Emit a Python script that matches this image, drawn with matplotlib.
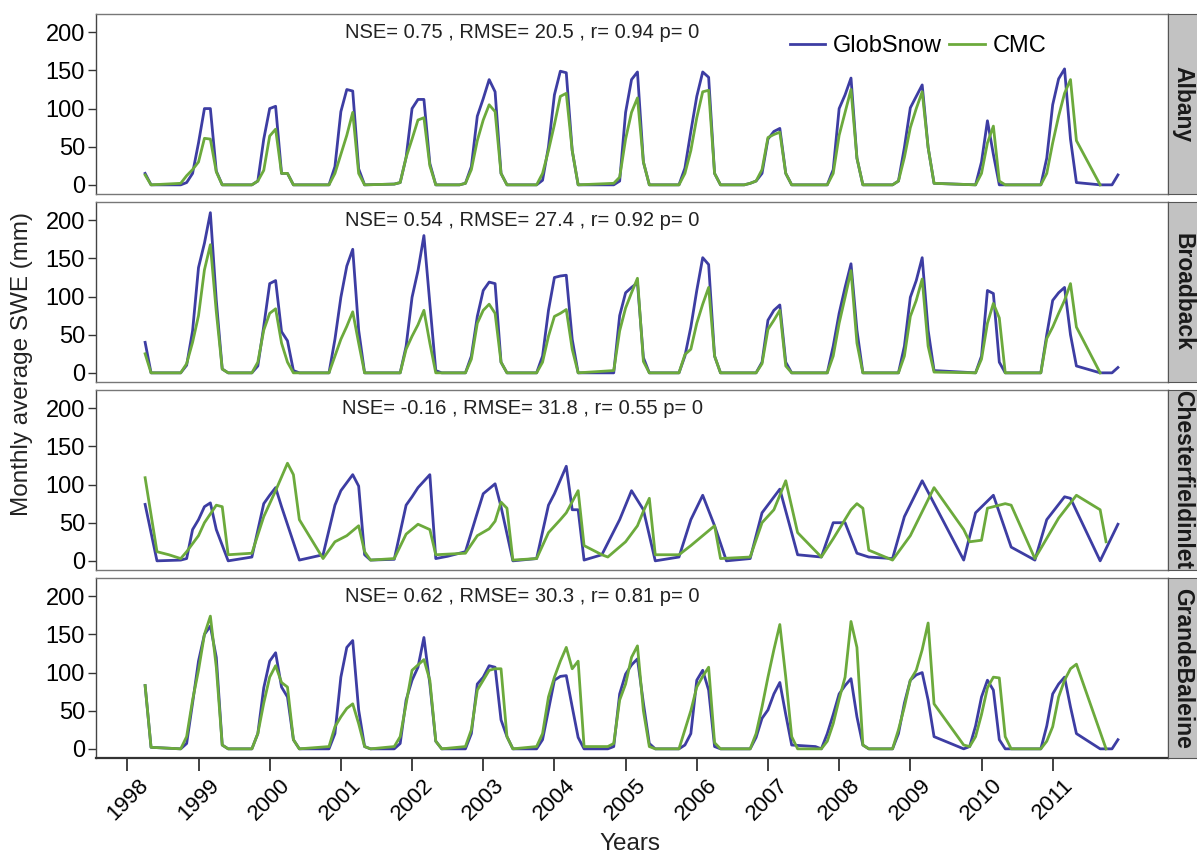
import numpy as np
import matplotlib
matplotlib.use('Agg')
import matplotlib.pyplot as plt

plt.rcParams['font.family'] = ['Liberation Sans', 'DejaVu Sans']

# ---------------------------------------------------------------
# Monthly SWE (mm), month index counted from Jan 1998 (0 = Jan 1998)
# ---------------------------------------------------------------
stations = ['Albany', 'Broadback', 'Chesterfieldinlet', 'GrandeBaleine']
stats = ['NSE= 0.75 , RMSE= 20.5 , r= 0.94 p= 0',
         'NSE= 0.54 , RMSE= 27.4 , r= 0.92 p= 0',
         'NSE= -0.16 , RMSE= 31.8 , r= 0.55 p= 0',
         'NSE= 0.62 , RMSE= 30.3 , r= 0.81 p= 0']
years = list(range(1998, 2012))

alb_gs_m = [3, 4, 9, 10, 11, 12, 13, 14, 15, 16, 21, 22, 23, 24, 25, 26, 27, 28,
            34, 35, 36, 37, 38, 39, 40, 45, 46, 47, 48, 49, 50, 51, 52,
            56, 57, 58, 59, 60, 61, 62, 63, 64, 69, 70, 71, 72, 73, 74, 75, 76,
            82, 83, 84, 85, 86, 87, 88, 93, 94, 95, 96, 97, 98, 99, 100,
            104, 105, 106, 107, 108, 109, 110, 111, 112, 118, 119, 120, 121, 122, 123, 124,
            129, 130, 131, 132, 133, 134, 135, 136, 143, 144, 145, 146, 147,
            154, 155, 156, 157, 158, 159, 160, 164, 166, 167]
alb_gs_v = [15, 0, 0, 3, 15, 55, 100, 100, 18, 0, 0, 5, 60, 100, 103, 15, 15, 0,
            0, 24, 96, 125, 123, 21, 0, 1, 3, 36, 100, 112, 112, 28, 0,
            0, 2, 24, 90, 113, 138, 122, 15, 0, 0, 6, 50, 118, 149, 147, 45, 0,
            0, 5, 95, 138, 148, 30, 0, 0, 22, 70, 116, 148, 141, 15, 0,
            0, 2, 5, 15, 60, 70, 74, 15, 0, 0, 20, 100, 118, 140, 35, 0,
            0, 5, 49, 101, 116, 131, 49, 2, 0, 30, 84, 40, 0,
            0, 35, 105, 139, 152, 60, 3, 0, 0, 13]
alb_cmc_m = [3, 4, 9, 10, 11, 12, 13, 14, 15, 16, 21, 22, 23, 24, 25, 26, 27, 28,
             34, 35, 36, 37, 38, 39, 40, 45, 46, 47, 48, 49, 50, 51, 52,
             56, 57, 58, 59, 60, 61, 62, 63, 64, 69, 70, 71, 72, 73, 74, 75, 76,
             82, 83, 84, 85, 86, 87, 88, 93, 94, 95, 96, 97, 98, 99, 100,
             104, 105, 106, 107, 108, 109, 110, 111, 112, 118, 119, 120, 121, 122, 123, 124,
             129, 130, 131, 132, 133, 134, 135, 136, 143, 144, 145, 146, 147, 148,
             154, 155, 156, 157, 158, 159, 160, 164]
alb_cmc_v = [13, 0, 2, 12, 20, 30, 61, 60, 17, 0, 0, 5, 19, 64, 73, 15, 15, 0,
             0, 15, 40, 65, 95, 15, 0, 1, 3, 36, 60, 85, 88, 25, 0,
             0, 2, 20, 58, 85, 105, 96, 15, 0, 0, 15, 45, 79, 116, 120, 45, 0,
             2, 10, 60, 95, 114, 30, 0, 0, 15, 45, 88, 122, 124, 15, 0,
             0, 2, 5, 20, 62, 66, 69, 15, 0, 0, 15, 65, 95, 125, 35, 0,
             0, 5, 36, 75, 100, 122, 49, 2, 0, 15, 55, 77, 5, 0,
             0, 15, 55, 90, 120, 138, 58, 0]

brd_gs_m = [3, 4, 9, 10, 11, 12, 13, 14, 15, 16, 17, 21, 22, 23, 24, 25, 26, 27, 28, 29,
            34, 35, 36, 37, 38, 39, 40, 46, 47, 48, 49, 50, 51, 52, 53,
            57, 58, 59, 60, 61, 62, 63, 64, 69, 70, 71, 72, 73, 74, 75, 76,
            82, 83, 84, 85, 86, 87, 88, 93, 94, 95, 96, 97, 98, 99, 100,
            106, 107, 108, 109, 110, 111, 112, 118, 119, 120, 121, 122, 123, 124,
            130, 131, 132, 133, 134, 135, 136, 143, 144, 145, 146, 147, 148,
            154, 155, 156, 157, 158, 159, 160, 164, 166, 167]
brd_gs_v = [40, 0, 0, 10, 55, 138, 170, 210, 95, 5, 0, 0, 9, 61, 117, 121, 54, 42, 3, 0,
            0, 44, 99, 140, 162, 56, 0, 0, 35, 99, 134, 180, 91, 3, 0,
            0, 22, 74, 108, 119, 117, 14, 0, 0, 22, 82, 125, 127, 128, 44, 0,
            0, 75, 105, 112, 118, 20, 0, 0, 22, 60, 108, 151, 142, 22, 0,
            0, 14, 69, 82, 89, 14, 0, 0, 35, 78, 112, 143, 56, 0,
            0, 35, 99, 121, 151, 56, 3, 0, 22, 108, 104, 14, 0,
            0, 50, 95, 105, 112, 50, 9, 0, 0, 7]
brd_cmc_m = [3, 4, 9, 10, 11, 12, 13, 14, 15, 16, 17, 21, 22, 23, 24, 25, 26, 27, 28,
             34, 35, 36, 37, 38, 39, 40, 46, 47, 48, 49, 50, 51, 52,
             57, 58, 59, 60, 61, 62, 63, 64, 69, 70, 71, 72, 73, 74, 75, 76,
             82, 83, 84, 85, 86, 87, 88, 93, 94, 95, 96, 97, 98, 99, 100,
             106, 107, 108, 109, 110, 111, 112, 118, 119, 120, 121, 122, 123, 124,
             130, 131, 132, 133, 134, 135, 136, 143, 144, 145, 146, 147, 148,
             154, 155, 156, 157, 158, 159, 160, 164]
brd_cmc_v = [25, 0, 0, 12, 40, 75, 135, 168, 80, 5, 0, 0, 14, 56, 78, 84, 39, 14, 0,
             0, 22, 44, 61, 80, 39, 0, 0, 31, 48, 63, 82, 39, 0,
             0, 18, 65, 82, 90, 78, 14, 0, 0, 14, 48, 74, 78, 83, 31, 0,
             3, 55, 85, 105, 124, 15, 0, 0, 24, 31, 65, 90, 112, 22, 0,
             0, 12, 57, 69, 82, 9, 0, 0, 22, 65, 99, 134, 39, 0,
             0, 22, 74, 95, 123, 35, 1, 0, 18, 65, 91, 72, 0,
             0, 45, 60, 78, 95, 117, 60, 0]

chs_gs_m = [3, 5, 9, 10, 11, 12, 13, 14, 15, 17, 21, 23, 24, 25, 26, 29, 33, 35, 36, 38, 39,
            40, 41, 45, 47, 48, 49, 51, 52, 54, 57, 59, 60, 62, 63, 65, 69, 71, 72, 74, 75,
            76, 77, 80, 83, 85, 87, 89, 93, 95, 97, 99, 101, 105, 107, 110, 113, 117,
            119, 121, 123, 125, 129, 131, 134, 141, 143, 146, 149, 153, 155, 158, 159, 164, 167]
chs_gs_v = [74, 0, 1, 3, 41, 54, 71, 76, 41, 0, 5, 75, 86, 96, 71, 1, 8, 73, 92, 113, 98,
            8, 1, 2, 73, 84, 96, 113, 3, 6, 12, 63, 88, 101, 71, 0, 3, 73, 88, 124, 67,
            67, 1, 8, 54, 92, 67, 0, 5, 54, 86, 46, 0, 3, 63, 94, 8, 5,
            50, 50, 10, 5, 3, 58, 105, 1, 63, 86, 18, 1, 54, 84, 82, 0, 48]
chs_cmc_m = [3, 5, 7, 9, 10, 12, 13, 15, 16, 17, 21, 23, 25, 27, 28, 29, 33, 35, 37, 39,
             40, 41, 45, 47, 49, 51, 52, 57, 59, 61, 62, 63, 64, 65, 69, 71, 73, 74, 76,
             77, 80, 81, 84, 86, 87, 88, 89, 93, 95, 97, 99, 100, 105, 107, 109, 111, 113,
             117, 119, 122, 123, 124, 125, 129, 132, 136, 141, 142, 144, 145, 148, 149,
             153, 157, 160, 164, 165]
chs_cmc_v = [109, 12, 8, 3, 12, 33, 50, 73, 71, 8, 10, 58, 92, 128, 113, 54, 3, 25, 33, 46,
             12, 1, 3, 35, 48, 41, 8, 10, 33, 42, 52, 77, 69, 1, 3, 37, 54, 63, 92,
             20, 8, 5, 25, 46, 65, 82, 8, 8, 20, 33, 46, 3, 5, 50, 67, 105, 37,
             5, 29, 67, 75, 69, 14, 1, 33, 96, 41, 25, 27, 69, 75, 73,
             3, 56, 86, 67, 25]

gbl_gs_m = [3, 4, 9, 10, 11, 12, 13, 14, 15, 16, 17, 21, 22, 23, 24, 25, 26, 27, 28, 29,
            34, 35, 36, 37, 38, 39, 40, 41, 45, 46, 47, 48, 49, 50, 51, 52, 53,
            57, 58, 59, 60, 61, 62, 63, 64, 65, 69, 70, 71, 72, 73, 74, 75, 76, 77, 81,
            82, 83, 84, 85, 86, 87, 88, 89, 93, 94, 95, 96, 97, 98, 99, 100,
            105, 106, 107, 108, 109, 110, 111, 112, 116, 117, 118, 119, 120, 121, 122, 123, 124, 125,
            129, 130, 131, 132, 133, 134, 135, 136, 141, 142, 143, 144, 145, 146, 147, 148,
            154, 155, 156, 157, 158, 159, 160, 164, 166, 167]
gbl_gs_v = [83, 2, 0, 7, 60, 115, 150, 161, 120, 5, 0, 0, 20, 80, 115, 126, 81, 68, 12, 0,
            0, 20, 94, 133, 142, 51, 3, 0, 0, 7, 64, 90, 107, 146, 85, 10, 0,
            0, 20, 85, 94, 109, 107, 38, 16, 0, 0, 12, 51, 90, 95, 96, 55, 15, 0, 0,
            3, 72, 98, 110, 118, 60, 7, 0, 0, 5, 20, 90, 103, 77, 3, 0,
            0, 15, 40, 51, 72, 87, 45, 5, 3, 0, 20, 45, 72, 83, 92, 42, 5, 0,
            0, 20, 60, 90, 97, 100, 64, 16, 0, 3, 30, 68, 90, 77, 12, 0,
            0, 30, 72, 85, 94, 55, 20, 0, 0, 12]
gbl_cmc_m = [3, 4, 9, 10, 11, 12, 13, 14, 15, 16, 17, 21, 22, 23, 24, 25, 26, 27, 28, 29,
             34, 35, 36, 37, 38, 39, 40, 41, 45, 46, 47, 48, 49, 50, 51, 52, 53,
             57, 58, 59, 60, 61, 62, 63, 64, 65, 69, 70, 71, 72, 73, 74, 75, 76, 77, 81,
             82, 83, 84, 85, 86, 87, 88, 89, 93, 94, 95, 96, 97, 98, 99, 100,
             105, 106, 107, 108, 109, 110, 111, 112, 113, 117, 118, 119, 120, 121, 122, 123, 124, 125,
             129, 130, 131, 132, 133, 134, 135, 136, 141, 142, 143, 144, 145, 146, 147, 148, 149,
             154, 155, 156, 157, 158, 159, 160, 165]
gbl_cmc_v = [83, 2, 0, 16, 64, 103, 150, 174, 107, 5, 0, 0, 20, 60, 94, 109, 87, 81, 12, 0,
             3, 29, 42, 53, 59, 33, 3, 0, 3, 16, 59, 103, 110, 117, 90, 10, 0,
             3, 25, 77, 90, 103, 105, 105, 16, 0, 3, 20, 68, 94, 115, 133, 105, 115, 3, 3,
             7, 64, 85, 120, 135, 50, 3, 0, 0, 25, 50, 81, 95, 107, 8, 0,
             0, 20, 55, 94, 130, 163, 94, 16, 0, 0, 10, 33, 65, 94, 167, 133, 5, 0,
             0, 25, 55, 90, 103, 130, 165, 59, 5, 3, 16, 45, 80, 94, 93, 16, 0,
             0, 10, 29, 68, 90, 105, 111, 0]

gs_months = [alb_gs_m, brd_gs_m, chs_gs_m, gbl_gs_m]
gs_values = [alb_gs_v, brd_gs_v, chs_gs_v, gbl_gs_v]
cmc_months = [alb_cmc_m, brd_cmc_m, chs_cmc_m, gbl_cmc_m]
cmc_values = [alb_cmc_v, brd_cmc_v, chs_cmc_v, gbl_cmc_v]

blue = '#3d3da3'
green = '#6caa3c'

W, H = 1197, 856
fig = plt.figure(figsize=(W/100, H/100), dpi=100)

left = 96
right = 1168
tops = [14, 202, 390, 578]
ph = 180

for i, name in enumerate(stations):
    ax = fig.add_axes([left/W, 1-(tops[i]+ph)/H, (right-left)/W, ph/H])
    xg = 1998 + np.array(gs_months[i])/12.0
    xc = 1998 + np.array(cmc_months[i])/12.0
    ax.plot(xg, gs_values[i], color=blue, lw=2.0, label='GlobSnow')
    ax.plot(xc, cmc_values[i], color=green, lw=2.0, label='CMC')
    ax.set_xlim(1997.56, 2012.62)
    ax.set_ylim(-12, 224)
    ax.set_yticks([0, 50, 100, 150, 200])
    ax.tick_params(axis='y', labelsize=17, length=6, width=1, color='#333333', pad=2)
    ax.set_xticks(years)
    for s in ax.spines.values():
        s.set_color('#777777')
        s.set_linewidth(1)
    ax.spines['left'].set_color('#444444')
    ax.text(2003.55, 200, stats[i], ha='center', va='center', fontsize=14.5, color='#222222')
    if i < 3:
        ax.tick_params(axis='x', bottom=False, labelbottom=False)
    else:
        ax.spines['bottom'].set_color('#333333')
        ax.spines['bottom'].set_linewidth(1.6)
        ax.tick_params(axis='x', labelsize=16, length=9, width=1.3, color='#333333', pad=3)
        ax.set_xticklabels([str(y) for y in years], rotation=45)
    if i == 0:
        ax.legend(loc='center', bbox_to_anchor=(0.767, 0.822), ncol=2, frameon=False,
                  fontsize=17, handlelength=1.5, handletextpad=0.35, columnspacing=0.3)

    # strip on the right
    sax = fig.add_axes([right/W, 1-(tops[i]+ph)/H, 31/W, ph/H])
    sax.set_facecolor('#c2c2c2')
    sax.set_xticks([])
    sax.set_yticks([])
    for s in sax.spines.values():
        s.set_color('#555555')
    sax.text(0.47, 0.5, name, rotation=-90, ha='center', va='center', fontsize=16.5,
             fontweight='bold', color='#1a1a1a', transform=sax.transAxes, clip_on=True)

fig.text(22/W, 1-364/H, 'Monthly average SWE (mm)', rotation=90, ha='center', va='center',
         fontsize=17.5, color='#222222')
fig.text(630/W, 1-844/H, 'Years', ha='center', va='center', fontsize=17.5, color='#222222')

fig.savefig('out.png', dpi=100)
